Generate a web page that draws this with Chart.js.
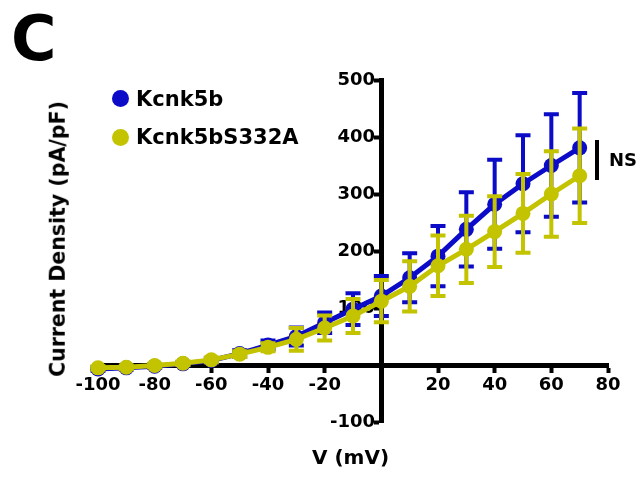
<!DOCTYPE html>
<html>
<head>
<meta charset="utf-8">
<script src="https://cdn.jsdelivr.net/npm/chart.js@4.4.0/dist/chart.umd.min.js"></script>
<style>
  html, body { margin: 0; padding: 0; background: #fff; }
  #wrap { position: relative; width: 641px; height: 477px; overflow: hidden;
          font-family: 'DejaVu Sans', sans-serif; font-weight: bold; color: #000; }
  #wrap canvas { position: absolute; left: 0; top: 0; }
  .lbl { position: absolute; white-space: nowrap; line-height: 1; }
  .dot { position: absolute; width: 17px; height: 17px; border-radius: 50%; }
</style>
</head>
<body>
<div id="wrap">
  <canvas id="ivChart" width="641" height="477"></canvas>
  <div class="lbl" style="left:11px; top:8px; font-size:62px;">C</div>
  <div class="dot" style="left:112px; top:90px; background:#0b0bc8;"></div>
  <div class="lbl" style="left:136px; top:89px; font-size:21px;">Kcnk5b</div>
  <div class="dot" style="left:112px; top:129px; background:#c3c300;"></div>
  <div class="lbl" style="left:136px; top:127px; font-size:21px;">Kcnk5bS332A</div>
  <div class="lbl" style="left:58px; top:239px; font-size:20.5px; transform:translate(-50%,-50%) rotate(-90deg);">Current Density (pA/pF)</div>
  <div class="lbl" style="left:312px; top:447px; font-size:20px;">V (mV)</div>
  <div style="position:absolute; left:595px; top:140px; width:4px; height:40px; background:#000;"></div>
  <div class="lbl" style="left:609px; top:151px; font-size:18px;">NS</div>
</div>
<script>
// membrane potential steps (mV)
const voltages = [-100, -90, -80, -70, -60, -50, -40, -30, -20, -10, 0, 10, 20, 30, 40, 50, 60, 70];

// current density, mean and SEM (pA/pF)
const kcnk5bMean = [-7, -5, -2, 2, 8, 20, 35, 50, 74, 98, 121, 153, 191, 238, 282, 318, 350, 381];
const kcnk5bSem  = [3, 3, 3, 3, 4, 6, 8, 16, 18, 28, 35, 43, 53, 65, 78, 85, 90, 96];
const s332aMean  = [-5, -4, -1, 3, 9, 19, 31, 45, 65, 86, 112, 138, 174, 203, 234, 266, 300, 332];
const s332aSem   = [3, 3, 3, 3, 4, 5, 7, 20, 22, 30, 37, 44, 53, 59, 62, 69, 75, 83];

// tick labels (0 is left out on both axes)
const xTicks = [-100, -80, -60, -40, -20, 20, 40, 60, 80];
const yTicks = [-100, 100, 200, 300, 400, 500];

const BLUE = '#0b0bc8';
const YELLOW = '#c3c300';

const tickFont = { family: 'DejaVu Sans', size: 18, weight: 'bold' };

// SEM per dataset index
const semSets = [kcnk5bSem, s332aSem];

/**
 * Draws mean +/- SEM bars just before each dataset's line
 */
const errorBars = {
  id: 'errorBars',
  beforeDatasetDraw(chart, args) {
    const { ctx, scales: { x, y } } = chart;
    const ds = chart.data.datasets[args.index];
    const sems = semSets[args.index];
    ctx.save();
    ctx.strokeStyle = ds.borderColor;
    ctx.lineWidth = 4;
    ds.data.forEach((p, i) => {
      const px = x.getPixelForValue(p.x);
      const top = y.getPixelForValue(p.y + sems[i]);
      const bot = y.getPixelForValue(p.y - sems[i]);
      ctx.beginPath();
      ctx.moveTo(px, top);
      ctx.lineTo(px, bot);
      ctx.moveTo(px - 7.5, top);
      ctx.lineTo(px + 7.5, top);
      ctx.moveTo(px - 7.5, bot);
      ctx.lineTo(px + 7.5, bot);
      ctx.stroke();
    });
    ctx.restore();
  }
};

function series(label, means, color, order) {
  return {
    label: label,
    data: voltages.map((v, i) => ({ x: v, y: means[i] })),
    borderColor: color,
    backgroundColor: color,
    borderWidth: 5,
    pointRadius: 7.5,
    pointBorderWidth: 0,
    pointBackgroundColor: color,
    tension: 0,
    clip: false,
    order: order
  };
}

new Chart(document.getElementById('ivChart'), {
  type: 'line',
  data: {
    datasets: [
      series('Kcnk5b', kcnk5bMean, BLUE, 1),
      series('Kcnk5bS332A', s332aMean, YELLOW, 0)
    ]
  },
  options: {
    responsive: false,
    animation: false,
    devicePixelRatio: 1,
    layout: { padding: { left: 98, right: 33, top: 80, bottom: 55 } },
    plugins: {
      legend: { display: false },
      tooltip: { enabled: false }
    },
    scales: {
      x: {
        type: 'linear',
        min: -100,
        max: 80,
        position: { y: 0 },
        afterFit(scale) { scale.height = 0; },
        afterBuildTicks(scale) { scale.ticks = xTicks.map(v => ({ value: v })); },
        ticks: { font: tickFont, color: '#000', padding: 5, autoSkip: false, maxRotation: 0 },
        grid: { drawOnChartArea: false, tickLength: 5, tickWidth: 4, tickColor: '#000' },
        border: { color: '#000', width: 5 }
      },
      y: {
        type: 'linear',
        min: -100,
        max: 500,
        position: { x: 0 },
        afterFit(scale) { scale.width = 0; },
        afterBuildTicks(scale) { scale.ticks = yTicks.map(v => ({ value: v })); },
        // centred axis ignores padding, so a trailing space keeps labels off the tick marks
        ticks: { font: tickFont, color: '#000', autoSkip: false, callback: v => v + ' ' },
        grid: { drawOnChartArea: false, tickLength: 5, tickWidth: 4, tickColor: '#000' },
        border: { color: '#000', width: 5 }
      }
    }
  },
  plugins: [errorBars]
});
</script>
</body>
</html>
